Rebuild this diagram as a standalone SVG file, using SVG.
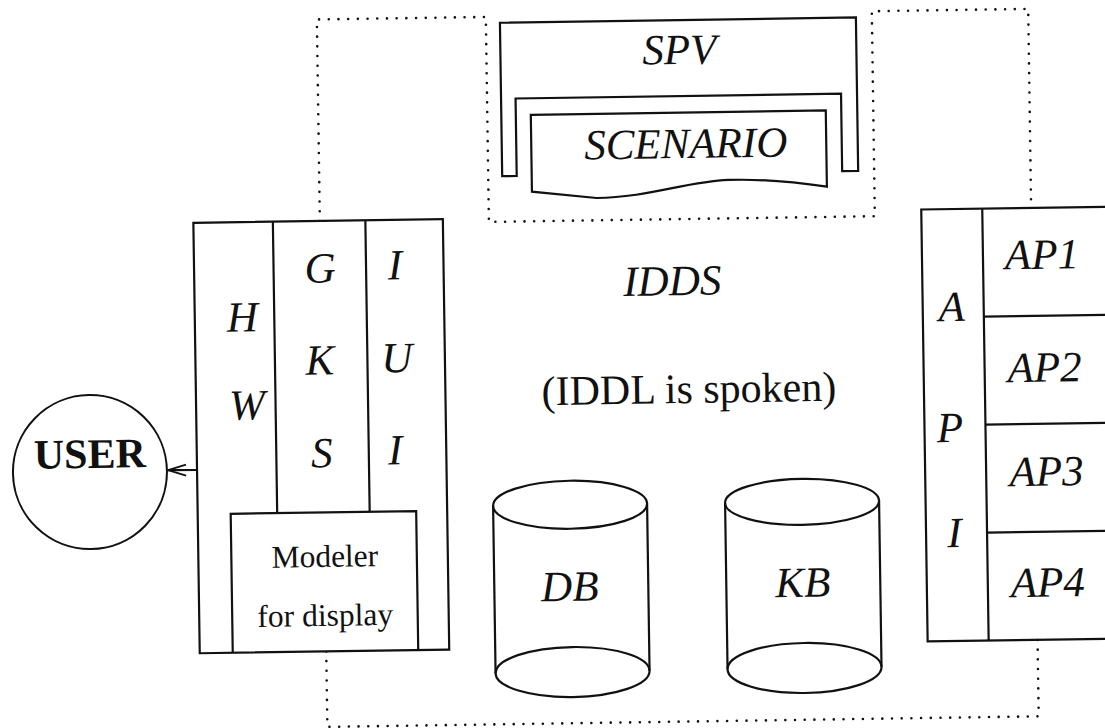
<svg xmlns="http://www.w3.org/2000/svg" width="1105" height="728" viewBox="0 0 1105 728">
  <style>
    .ln { fill: none; stroke: #111; stroke-width: 2.2; stroke-linejoin: miter; }
    .box { fill: #fff; stroke: #111; stroke-width: 2.2; }
    .dot { fill: none; stroke: #111; stroke-width: 2.6; stroke-linecap: round; stroke-dasharray: 0 9.7; }
    text { font-family: 'Liberation Serif', 'DejaVu Serif', 'Noto Serif', serif; fill: #111; text-anchor: middle; }
    .it { font-style: italic; font-size: 43px; }
    .rm { font-size: 42px; }
    .sm { font-size: 31.5px; }
    .bd { font-weight: bold; font-size: 42px; }
  </style>
  <defs>
    <marker id="open-arrow" viewBox="0 0 20 14" refX="19" refY="7" markerWidth="20" markerHeight="14" markerUnits="userSpaceOnUse" orient="auto">
      <path d="M1,1.5 L19,7 L1,12.5" fill="none" stroke="#111" stroke-width="1.8"/>
    </marker>
  </defs>
  <rect width="1105" height="728" fill="#fff"/>

  <!-- whole sheet is slightly tilted -->
  <g transform="rotate(-0.85 552 364)" font-family="Liberation Serif, DejaVu Serif, serif">

    <!-- IDDS boundary (dotted) -->
    <g id="idds-boundary">
      <path class="dot" d="M322,217.5 V16 H491 V221 H877 V16 H1033.4 V215"/>
      <path class="dot" d="M322,648 V723.5 H1033.4 V647"/>
    </g>

    <!-- SPV holding the SCENARIO document -->
    <g id="spv">
      <path class="ln" d="M505,175.5 V22 H861 V175.5 H845 V98 H519.5 V175.5 Z"/>
      <text class="it" x="684" y="66">SPV</text>
    </g>
    <g id="scenario">
      <path class="ln" d="M534.5,114.5 H829.5 V190.8 C800,186 760,182 731,182.6 C690,183.5 650,199 599,198.7 L534.5,191.4 Z"/>
      <text class="it" x="689" y="160">SCENARIO</text>
    </g>

    <!-- IDDS labels -->
    <g id="idds">
      <text class="it" x="673.5" y="297">IDDS</text>
      <text class="rm" x="688.5" y="405">(IDDL is spoken)</text>
    </g>

    <!-- user -->
    <g id="user">
      <circle cx="88.4" cy="465.2" r="77" fill="#fff" stroke="#111" stroke-width="2"/>
      <text class="bd" x="88.5" y="461">USER</text>
    </g>

    <!-- HW / GKS / IUI stack -->
    <g id="hws-gks-iui">
      <rect class="box" x="195.5" y="217.5" width="249.5" height="430.5"/>
      <path class="ln" d="M275,217.5 V509 M367.5,217.5 V509"/>
      <text class="it" x="243" y="327">H</text>
      <text class="it" x="246.5" y="415">W</text>
      <text class="it" x="321.5" y="279">G</text>
      <text class="it" x="320" y="371">K</text>
      <text class="it" x="320.5" y="464">S</text>
      <text class="it" x="396.5" y="277">I</text>
      <text class="it" x="397" y="370">U</text>
      <text class="it" x="394" y="462">I</text>
    </g>
    <g id="modeler">
      <path class="ln" d="M228.5,648 V509 H414 V648"/>
      <text class="sm" x="322" y="563.5">Modeler</text>
      <text class="sm" x="321.5" y="622.5">for display</text>
    </g>

    <!-- databases -->
    <g id="db">
      <path class="ln" d="M491,505 V672.3"/>
      <path class="ln" d="M645,505 V672.3"/>
      <ellipse class="ln" cx="568" cy="505" rx="77" ry="24"/>
      <ellipse class="ln" cx="568" cy="672.3" rx="77" ry="25"/>
      <text class="it" x="566.5" y="601">DB</text>
    </g>
    <g id="kb">
      <path class="ln" d="M723,505.5 V671.7"/>
      <path class="ln" d="M877,505.5 V671.7"/>
      <ellipse class="ln" cx="800" cy="505.5" rx="77" ry="23"/>
      <ellipse class="ln" cx="800" cy="671.7" rx="77" ry="25"/>
      <text class="it" x="799.5" y="600.5">KB</text>
    </g>

    <!-- API with application programs -->
    <g id="api">
      <path class="ln" d="M1125,215 H923.5 V647 H1125 M984.5,215 V647"/>
      <text class="it" x="952.5" y="327">A</text>
      <text class="it" x="949" y="448">P</text>
      <text class="it" x="952" y="553">I</text>
    </g>
    <g id="ap1">
      <path class="ln" d="M984.5,323 H1125"/>
      <text class="it" x="1043.5" y="276">AP1</text>
    </g>
    <g id="ap2">
      <path class="ln" d="M984.5,431 H1125"/>
      <text class="it" x="1044.5" y="389">AP2</text>
    </g>
    <g id="ap3">
      <path class="ln" d="M984.5,539 H1125"/>
      <text class="it" x="1045" y="493">AP3</text>
    </g>
    <g id="ap4">
      <text class="it" x="1044.5" y="604">AP4</text>
    </g>

    <!-- connectors -->
    <g id="connectors">
      <path class="ln" d="M195.5,464.7 L166.5,464.5" stroke-width="1.8" marker-end="url(#open-arrow)"/>
    </g>
  </g>
</svg>
